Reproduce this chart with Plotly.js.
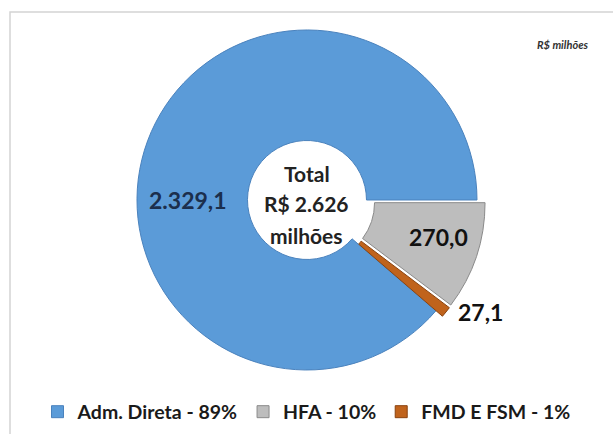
<!DOCTYPE html>
<html>
<head>
<meta charset="utf-8">
<script src="https://cdn.plot.ly/plotly-3.0.1.min.js"></script>
<style>
  html, body { margin: 0; padding: 0; background: #ffffff; }
  #chart { width: 613px; height: 434px; }
</style>
</head>
<body>
<div id="chart"></div>
<script>
// ---- data ----
var categories = ['Adm. Direta', 'HFA', 'FMD E FSM'];
var values = [2329.1, 270.0, 27.1];
var unitLabel = 'R$ milhões';
var totalPrefix = 'Total';
var totalUnit = 'milhões';

// ---- helpers ----
function fmtBR(v, d) {
  var s = v.toFixed(d);
  var parts = s.split('.');
  var ip = parts[0].replace(/\B(?=(\d{3})+(?!\d))/g, '.');
  return d ? ip + ',' + parts[1] : ip;
}
var total = values.reduce(function (a, b) { return a + b; }, 0);
var legendLabels = categories.map(function (c, i) {
  return c + ' - ' + Math.round(values[i] / total * 100) + '%';
});
var valueTexts = values.map(function (v) { return fmtBR(v, 1); });
var centerLines = [totalPrefix, 'R$ ' + fmtBR(Math.round(total), 0), totalUnit];

// rotation so that the first slice ends at 3 o'clock
var rotation = 90 + 360 - (values[0] / total) * 360;

var FONT = 'Lato, "Open Sans", "DejaVu Sans", sans-serif';
var colors = ['#5b9bd8', '#bdbdbd', '#c0631c'];
var lineColors = ['#4a82bd', '#8a8a8a', '#8a430f'];

var trace = {
  type: 'pie',
  labels: legendLabels,
  values: values,
  hole: 0.35,
  sort: false,
  direction: 'clockwise',
  rotation: rotation,
  pull: [0, 0.05, 0.05],
  textinfo: 'none',
  hoverinfo: 'label+value',
  marker: { colors: colors, line: { color: lineColors, width: 1 } },
  domain: { x: [0.2096, 0.7920], y: [0.1279, 0.9505] },
  showlegend: true
};

// label positions (px from top-left) -> paper
function px(x) { return x / 613; }
function py(y) { return 1 - y / 434; }
var labelPos = [[188, 200], [438, 237], [480, 312]];
var labelColors = ['#1b2f4d', '#111111', '#111111'];

var annotations = [];
valueTexts.forEach(function (t, i) {
  annotations.push({
    text: '<b>' + t + '</b>', x: px(labelPos[i][0]), y: py(labelPos[i][1]),
    xref: 'paper', yref: 'paper', xanchor: 'center', yanchor: 'middle',
    showarrow: false, font: { family: FONT, size: 23, color: labelColors[i] }
  });
});
centerLines.forEach(function (t, i) {
  annotations.push({
    text: '<b>' + t + '</b>', x: px(307), y: py(173 + i * 31),
    xref: 'paper', yref: 'paper', xanchor: 'center', yanchor: 'middle',
    showarrow: false, font: { family: FONT, size: 21, color: '#222222' }
  });
});
annotations.push({
  text: '<b><i>' + unitLabel + '</i></b>', x: px(590), y: py(45),
  xref: 'paper', yref: 'paper', xanchor: 'right', yanchor: 'middle',
  showarrow: false, font: { family: FONT, size: 11, color: '#333333' }
});

var layout = {
  width: 613,
  height: 434,
  margin: { l: 0, r: 0, t: 0, b: 0 },
  paper_bgcolor: '#ffffff',
  font: { family: FONT, color: '#1a1a1a' },
  showlegend: true,
  legend: {
    orientation: 'h',
    x: 0.5, xanchor: 'center',
    y: py(412), yanchor: 'middle',
    font: { family: FONT, size: 19.5, color: '#1a1a1a', weight: 'bold' },
    itemwidth: 30,
    traceorder: 'normal'
  },
  shapes: [{
    type: 'rect', xref: 'paper', yref: 'paper',
    x0: 10 / 613, x1: 1.2, y0: -0.2, y1: 1 - 12 / 434,
    line: { color: '#d4d4d4', width: 1.5 }, fillcolor: 'rgba(0,0,0,0)'
  }],
  annotations: annotations
};

Plotly.newPlot('chart', [trace], layout, { displayModeBar: false, staticPlot: true });
</script>
</body>
</html>
